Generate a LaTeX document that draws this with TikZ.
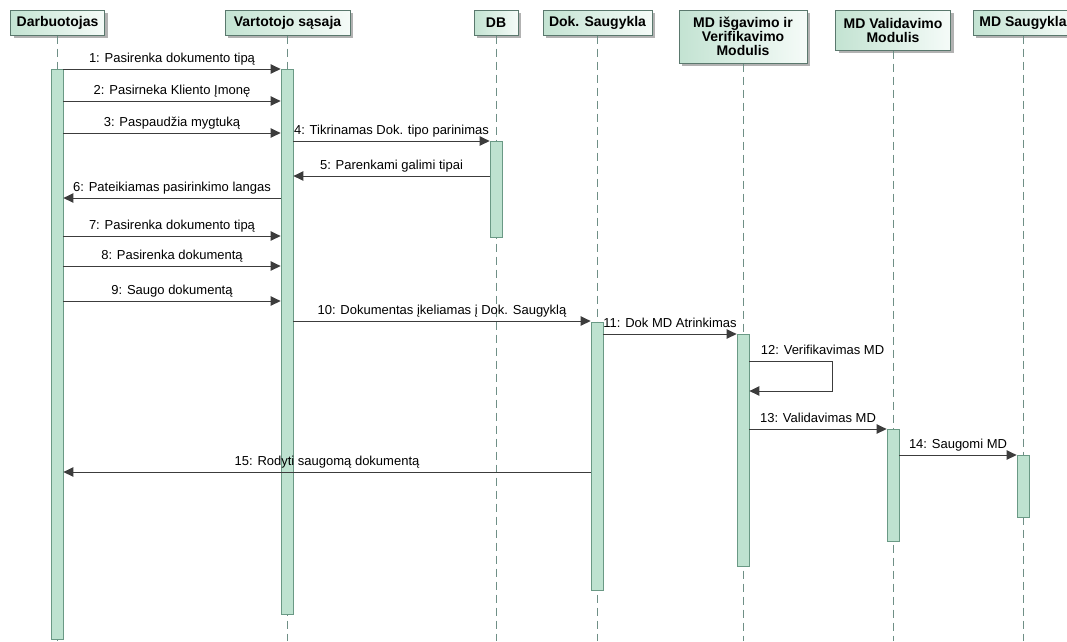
\documentclass[tikz,border=0pt]{standalone}
\usepackage{fontspec}
\setmainfont{Liberation Sans}
\usetikzlibrary{arrows.meta,shadows,calc}
\definecolor{hdborder}{HTML}{5A786D}
\definecolor{hdL}{HTML}{C3E3D2}
\definecolor{hdR}{HTML}{F5FBF8}
\definecolor{barfill}{HTML}{BEE2D0}
\definecolor{barline}{HTML}{6A9985}
\definecolor{lifecol}{HTML}{6F8F86}
\definecolor{msgcol}{HTML}{3C3C3C}
\begin{document}
\begin{tikzpicture}[x=1pt,y=-1pt,
 head/.style={draw=hdborder, line width=1pt, left color=hdL, right color=hdR,
   font=\bfseries\fontsize{14}{14}\selectfont, align=center, inner sep=0pt,
   drop shadow={shadow xshift=3pt, shadow yshift=-3pt, fill=black!30, opacity=1}},
 bar/.style={draw=barline, fill=barfill, line width=0.8pt, minimum width=12pt, inner sep=0pt, anchor=north},
 life/.style={draw=lifecol, line width=0.8pt, dash pattern=on 8pt off 5pt},
 msg/.style={draw=msgcol, line width=1pt, -{Triangle[length=10pt,width=9.5pt]}},
 lbl/.style={font=\fontsize{13}{15}\selectfont, anchor=base, yshift=7pt, inner sep=0pt, text=black}]
\useasboundingbox (0,0) rectangle (1067,641);
\clip (0,0) rectangle (1067,641);
\coordinate (bottom) at (0,641);
% headers
\node[head, minimum width=94pt, minimum height=25pt] (h1) at (57.5,22.5) {Darbuotojas};
\node[head, minimum width=125pt, minimum height=25pt] (h2) at (287.5,22.5) {Vartotojo sąsaja};
\node[head, minimum width=44pt, minimum height=25pt] (h3) at (496,22.5) {DB};
\node[head, minimum width=109pt, minimum height=25pt] (h4) at (597.5,22.5) {Dok. Saugykla};
\node[head, minimum width=128pt, minimum height=53pt] (h5) at (743,36.5) {MD išgavimo ir\\Verifikavimo\\Modulis};
\node[head, minimum width=115pt, minimum height=40pt] (h6) at (893,30) {MD Validavimo\\Modulis};
\node[head, minimum width=100pt, minimum height=25pt] (h7) at (1023,22.5) {MD Saugykla};
% lifelines
\foreach \h in {h1,h2,h3,h4,h5,h6,h7}{
  \draw[life] (\h.south) -- (\h.south |- bottom);
}
% activation bars
\node[bar, minimum height=570pt] (b1) at (57,69) {};
\node[bar, minimum height=545pt] (b2) at (287,69) {};
\node[bar, minimum height=96pt] (b3) at (496,141) {};
\node[bar, minimum height=268pt] (b4) at (597,322) {};
\node[bar, minimum height=232pt] (b5) at (743,334) {};
\node[bar, minimum height=112pt] (b6) at (893,429) {};
\node[bar, minimum height=62pt] (b7) at (1023,455) {};
% message levels
\coordinate (y1) at (0,69);
\coordinate (y2) at (0,101);
\coordinate (y3) at (0,133);
\coordinate (y4) at (0,141);
\coordinate (y5) at (0,176);
\coordinate (y6) at (0,198);
\coordinate (y7) at (0,236);
\coordinate (y8) at (0,266);
\coordinate (y9) at (0,301);
\coordinate (y10) at (0,321);
\coordinate (y11) at (0,334);
\coordinate (y12a) at (0,361);
\coordinate (y12b) at (0,391);
\coordinate (y13) at (0,429);
\coordinate (y14) at (0,455);
\coordinate (y15) at (0,472);
% messages
\draw[msg] (b1.east |- y1) -- node[lbl]{1: Pasirenka dokumento tipą} (b2.west |- y1);
\draw[msg] (b1.east |- y2) -- node[lbl]{2: Pasirneka Kliento Įmonę} (b2.west |- y2);
\draw[msg] (b1.east |- y3) -- node[lbl]{3: Paspaudžia mygtuką} (b2.west |- y3);
\draw[msg] (b2.east |- y4) -- node[lbl]{4: Tikrinamas Dok. tipo parinimas} (b3.west |- y4);
\draw[msg] (b3.west |- y5) -- node[lbl]{5: Parenkami galimi tipai} (b2.east |- y5);
\draw[msg] (b2.west |- y6) -- node[lbl]{6: Pateikiamas pasirinkimo langas} (b1.east |- y6);
\draw[msg] (b1.east |- y7) -- node[lbl]{7: Pasirenka dokumento tipą} (b2.west |- y7);
\draw[msg] (b1.east |- y8) -- node[lbl]{8: Pasirenka dokumentą} (b2.west |- y8);
\draw[msg] (b1.east |- y9) -- node[lbl]{9: Saugo dokumentą} (b2.west |- y9);
\draw[msg] (b2.east |- y10) -- node[lbl]{10: Dokumentas įkeliamas į Dok. Saugyklą} (b4.west |- y10);
\draw[msg] (b4.east |- y11) -- node[lbl]{11: Dok MD Atrinkimas} (b5.west |- y11);
\draw[msg] (b5.east |- y12a) node[lbl, anchor=base west, xshift=11pt]{12: Verifikavimas MD}
   -- ++(83,0) -- ++(0,30) -- (b5.east |- y12b);
\draw[msg] (b5.east |- y13) -- node[lbl]{13: Validavimas MD} (b6.west |- y13);
\draw[msg] (b6.east |- y14) -- node[lbl]{14: Saugomi MD} (b7.west |- y14);
\draw[msg] (b4.west |- y15) -- node[lbl]{15: Rodyti saugomą dokumentą} (b1.east |- y15);
\end{tikzpicture}
\end{document}
